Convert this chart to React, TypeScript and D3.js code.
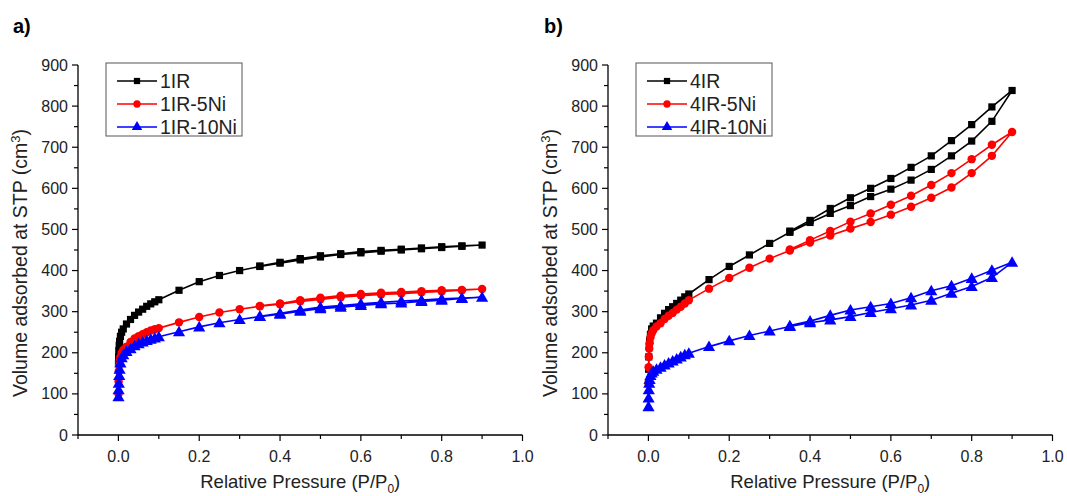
import React from "react";
import * as d3 from "d3";

// ---------- data ----------
const PRESSURE_ADS = [
  0.0002, 0.0005, 0.001, 0.002, 0.003, 0.005, 0.008, 0.012, 0.02, 0.03, 0.04,
  0.05, 0.06, 0.07, 0.08, 0.09, 0.1, 0.15, 0.2, 0.25, 0.3, 0.35, 0.4, 0.45,
  0.5, 0.55, 0.6, 0.65, 0.7, 0.75, 0.8, 0.85, 0.9,
];
const PRESSURE_DES = [0.85, 0.8, 0.75, 0.7, 0.65, 0.6, 0.55, 0.5, 0.45, 0.4, 0.35];

// panel a
const IR1_ADS = [174, 190, 205, 218, 228, 240, 250, 258, 270, 281, 291, 299, 306, 313, 319, 324, 329, 352, 373, 388, 400, 410, 418, 426, 433, 439, 443, 447, 450, 453, 456, 459, 462];
const IR1_DES = [460, 458, 455, 452, 449, 446, 441, 436, 429, 420, 411];
const IR1_5NI_ADS = [100, 130, 155, 170, 180, 190, 200, 207, 215, 226, 235, 240, 245, 250, 254, 257, 260, 274, 287, 298, 306, 313, 318, 325, 330, 335, 339, 342, 344, 347, 349, 352, 355];
const IR1_5NI_DES = [353, 352, 350, 348, 346, 343, 339, 334, 328, 320, 314];
const IR1_10NI_ADS = [93, 110, 126, 145, 160, 175, 188, 195, 203, 210, 217, 222, 226, 230, 233, 236, 239, 251, 263, 273, 281, 288, 294, 301, 307, 311, 315, 319, 321, 325, 328, 332, 335];
const IR1_10NI_DES = [333, 331, 328, 326, 323, 319, 315, 311, 304, 296, 289];

// panel b
const IR4_ADS = [125, 160, 190, 215, 230, 245, 258, 265, 272, 285, 296, 305, 312, 320, 328, 336, 343, 378, 410, 438, 466, 493, 517, 539, 558, 580, 598, 620, 646, 679, 715, 763, 838];
const IR4_DES = [798, 755, 716, 679, 651, 624, 600, 577, 551, 522, 496];
const IR4_5NI_ADS = [126, 165, 190, 210, 223, 237, 247, 255, 264, 272, 282, 290, 297, 305, 312, 320, 328, 356, 382, 407, 429, 449, 468, 485, 502, 518, 536, 555, 577, 602, 637, 679, 737];
const IR4_5NI_DES = [706, 671, 637, 608, 582, 560, 539, 519, 496, 474, 451];
const IR4_10NI_ADS = [69, 90, 110, 126, 135, 145, 151, 155, 160, 165, 170, 175, 180, 185, 190, 195, 199, 215, 229, 242, 253, 264, 273, 280, 288, 298, 307, 316, 328, 345, 361, 383, 420];
const IR4_10NI_DES = [401, 381, 363, 351, 334, 320, 312, 304, 291, 277, 266];

const NAMES_A = ["1IR", "1IR-5Ni", "1IR-10Ni"];
const NAMES_B = ["4IR", "4IR-5Ni", "4IR-10Ni"];
const COLORS = ["#000000", "#ff0000", "#0000ff"];
const SHAPES = [d3.symbolSquare, d3.symbolCircle, d3.symbolTriangle];
const SIZES = [52, 56, 64];

const X_TICKS = [-0.1, 0, 0.1, 0.2, 0.3, 0.4, 0.5, 0.6, 0.7, 0.8, 0.9, 1.0];
const Y_TICKS = [0, 50, 100, 150, 200, 250, 300, 350, 400, 450, 500, 550, 600, 650, 700, 750, 800, 850, 900];

const FONT = "'Liberation Sans', Arial, sans-serif";

type Series = { name: string; ads: number[]; des: number[] };

function Panel(props: {
  left: number;
  right: number;
  label: string;
  labelX: number;
  legendX: number;
  series: Series[];
}) {
  const { left, right, label, labelX, legendX, series } = props;
  const x = d3.scaleLinear().domain([-0.1, 1.0]).range([left, right]);
  const y = d3.scaleLinear().domain([0, 900]).range([435, 65]);
  const line = d3
    .line<[number, number]>()
    .x((d) => x(d[0]))
    .y((d) => y(d[1]));

  const legendY = 63;
  const rowY = [18, 41, 64];

  return (
    <g>
      <text x={labelX} y={33} fontFamily={FONT} fontWeight="bold" fontSize={20}>
        {label}
      </text>
      {/* axes */}
      <line x1={left} x2={right} y1={y(0)} y2={y(0)} stroke="#000" strokeWidth={1.3} />
      <line x1={left} x2={left} y1={y(0)} y2={y(900)} stroke="#000" strokeWidth={1.3} />
      {X_TICKS.map((t, i) => {
        const major = Math.round(t * 10) % 2 === 0;
        return (
          <g key={"xt" + i}>
            <line x1={x(t)} x2={x(t)} y1={y(0)} y2={y(0) + (major ? 6 : 4)} stroke="#000" strokeWidth={1.2} />
            {major && t >= 0 ? (
              <text x={x(t)} y={462} textAnchor="middle" fontFamily={FONT} fontSize={16} fill="#222">
                {d3.format(".1f")(t)}
              </text>
            ) : null}
          </g>
        );
      })}
      {Y_TICKS.map((t, i) => {
        const major = t % 100 === 0;
        return (
          <g key={"yt" + i}>
            <line x1={left} x2={left - (major ? 6 : 4)} y1={y(t)} y2={y(t)} stroke="#000" strokeWidth={1.2} />
            {major ? (
              <text x={left - 10} y={y(t) + 5.5} textAnchor="end" fontFamily={FONT} fontSize={16} fill="#222">
                {t}
              </text>
            ) : null}
          </g>
        );
      })}
      {/* axis titles */}
      <text
        x={(x(-0.1) + x(1.0)) / 2 + 0}
        y={488}
        textAnchor="middle"
        fontFamily={FONT}
        fontSize={18.5}
        fill="#222"
      >
        <tspan>Relative Pressure (P/P</tspan>
        <tspan dy={5} fontSize={12}>0</tspan>
        <tspan dy={-5}>)</tspan>
      </text>
      <text
        transform={`translate(${left - 51},${263}) rotate(-90)`}
        textAnchor="middle"
        fontFamily={FONT}
        fontSize={19.5}
        fill="#222"
      >
        <tspan>Volume adsorbed at STP (cm</tspan>
        <tspan dy={-7} fontSize={13}>3</tspan>
        <tspan dy={7}>)</tspan>
      </text>
      {/* series */}
      {series.map((s, si) => {
        const ads: [number, number][] = PRESSURE_ADS.map((p, i) => [p, s.ads[i]]);
        const des: [number, number][] = PRESSURE_DES.map((p, i) => [p, s.des[i]]);
        const path: [number, number][] = [...ads, ...des];
        const sym = d3.symbol().type(SHAPES[si]).size(SIZES[si])() as string;
        return (
          <g key={s.name}>
            <path d={line(path) as string} fill="none" stroke={COLORS[si]} strokeWidth={1.6} />
            {[...ads, ...des].map((d, i) => (
              <path
                key={i}
                d={sym}
                transform={`translate(${x(d[0])},${y(d[1]) + (si === 2 ? 1 : 0)})`}
                fill={COLORS[si]}
              />
            ))}
          </g>
        );
      })}
      {/* legend */}
      <rect x={legendX} y={legendY} width={136} height={73} fill="#fff" stroke="#555" strokeWidth={1} />
      {series.map((s, si) => {
        const sym = d3.symbol().type(SHAPES[si]).size(SIZES[si] * 0.75)() as string;
        const ry = legendY + rowY[si];
        return (
          <g key={"lg" + si}>
            <line x1={legendX + 11} x2={legendX + 51} y1={ry} y2={ry} stroke={COLORS[si]} strokeWidth={1.6} />
            <path d={sym} transform={`translate(${legendX + 31},${ry})`} fill={COLORS[si]} />
            <text x={legendX + 54} y={ry + 7} fontFamily={FONT} fontSize={19.5} fill="#222">
              {s.name}
            </text>
          </g>
        );
      })}
    </g>
  );
}

export default function App() {
  const seriesA: Series[] = [
    { name: NAMES_A[0], ads: IR1_ADS, des: IR1_DES },
    { name: NAMES_A[1], ads: IR1_5NI_ADS, des: IR1_5NI_DES },
    { name: NAMES_A[2], ads: IR1_10NI_ADS, des: IR1_10NI_DES },
  ];
  const seriesB: Series[] = [
    { name: NAMES_B[0], ads: IR4_ADS, des: IR4_DES },
    { name: NAMES_B[1], ads: IR4_5NI_ADS, des: IR4_5NI_DES },
    { name: NAMES_B[2], ads: IR4_10NI_ADS, des: IR4_10NI_DES },
  ];
  return (
    <div style={{ position: "absolute", left: 0, top: 0 }}>
      <svg width={1067} height={496} style={{ display: "block", background: "#fff" }}>
        <Panel left={78} right={522.5} label="a)" labelX={13} legendX={106} series={seriesA} />
        <Panel left={608} right={1052.5} label="b)" labelX={544} legendX={636} series={seriesB} />
      </svg>
    </div>
  );
}
